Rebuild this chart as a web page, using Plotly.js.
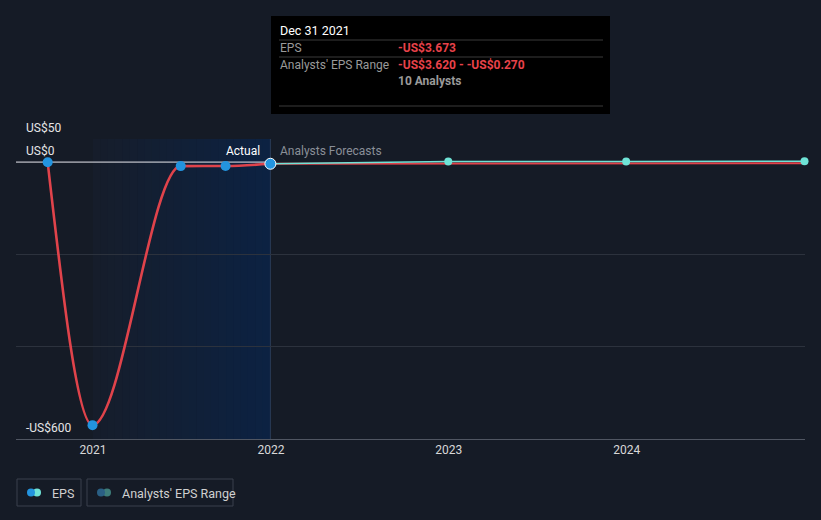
<!DOCTYPE html>
<html><head><meta charset="utf-8">
<script src="https://cdn.plot.ly/plotly-3.0.1.min.js"></script>
<style>html,body{margin:0;padding:0;background:#151b26;}#chart{width:821px;height:520px;}</style>
</head><body><div id="chart"></div>
<script>
// Data
const actualDates = ['2020-09-30','2020-12-31','2021-06-30','2021-09-30','2021-12-31'];
const actualEPS = [-0.5, -570, -8.7, -8.4, -3.673];
const forecastDates = ['2021-12-31','2022-12-31','2023-12-31','2024-12-31'];
const forecastEPS = [-3.673, 1.0, 1.5, 2.0];
const forecastLow = [-3.673, -2.8, -2.6, -2.4];
const xTickVals = ['2021-01-01','2022-01-01','2023-01-01','2024-01-01'];
const xTickText = ['2021','2022','2023','2024'];
const yLabelVals = [50, 0, -600];
const yLabelText = ['US$50','US$0','-US$600'];
const tipTitle = 'Dec 31 2021';
const tipEPS = '-US$3.673';
const tipRange = '-US$3.620 - -US$0.270';
const tipAnalysts = '10 Analysts';

const W=821,H=520,L=16,R=16,T=139,B=81;
const pw=W-L-R, ph=H-T-B;
const px=x=>(x-L)/pw, py=y=>(H-B-y)/ph;

// monotone cubic (d3 curveMonotoneX style) path built from the data
function monotonePath(dates, ys){
  const xs=dates.map(d=>new Date(d+'T00:00:00Z').getTime());
  const n=xs.length, t=new Array(n);
  const sgn=v=>v<0?-1:1;
  for(let i=1;i<n-1;i++){
    const h0=xs[i]-xs[i-1], h1=xs[i+1]-xs[i];
    const s0=(ys[i]-ys[i-1])/h0, s1=(ys[i+1]-ys[i])/h1;
    const p=(s0*h1+s1*h0)/(h0+h1);
    t[i]=(sgn(s0)+sgn(s1))*Math.min(Math.abs(s0),Math.abs(s1),0.5*Math.abs(p))||0;
  }
  if(n>2){
    let h=xs[1]-xs[0]; t[0]=(3*(ys[1]-ys[0])/h-t[1])/2;
    h=xs[n-1]-xs[n-2]; t[n-1]=(3*(ys[n-1]-ys[n-2])/h-t[n-2])/2;
  }
  const fx=ms=>new Date(ms).toISOString().slice(0,19).replace('T','_');
  let d='M'+fx(xs[0])+','+ys[0];
  for(let i=0;i<n-1;i++){
    const dx=(xs[i+1]-xs[i])/3;
    d+=' C'+fx(xs[i]+dx)+','+(ys[i]+dx*t[i])+' '+fx(xs[i+1]-dx)+','+(ys[i+1]-dx*t[i+1])+' '+fx(xs[i+1])+','+ys[i+1];
  }
  return d;
}

const shapes=[];
const annotations=[];
// gradient shaded actual region
const n=24;
const t0=new Date('2021-01-01').getTime(), t1=new Date('2021-12-31').getTime();
function mix(a,b,f){return Math.round(a+(b-a)*f);}
for(let i=0;i<n;i++){
  const f=(i+0.5)/n;
  const c=`rgb(${mix(22,12,f)},${mix(29,34,f)},${mix(42,66,f)})`;
  shapes.push({type:'rect',xref:'x',yref:'paper',x0:new Date(t0+(t1-t0)*i/n).toISOString().slice(0,10),x1:new Date(t0+(t1-t0)*(i+1)/n+86400000).toISOString().slice(0,10),y0:0,y1:1,fillcolor:c,line:{width:0},layer:'below'});
}
// vertical line at today
shapes.push({type:'line',xref:'x',yref:'paper',x0:'2021-12-31',x1:'2021-12-31',y0:0,y1:1,line:{color:'#2b3b55',width:1},layer:'between'});
// zero line (actual part)
shapes.push({type:'line',xref:'paper',yref:'y',x0:0,x1:px(271),y0:0,y1:0,line:{color:'#e8e8ee',width:1},layer:'between'});
// actual EPS curve
shapes.push({type:'path',xref:'x',yref:'y',path:monotonePath(actualDates,actualEPS),line:{color:'#e0434b',width:2.6},fillcolor:'rgba(0,0,0,0)',layer:'between'});
// y labels
yLabelVals.forEach((v,i)=>annotations.push({xref:'paper',yref:'y',x:px(24),y:v,text:yLabelText[i],showarrow:false,xanchor:'left',yanchor:'bottom',yshift:2,font:{family:'Roboto',size:12,color:'#e6e6e6'}}));
// Actual / Forecast labels
annotations.push({xref:'x',yref:'paper',x:'2021-12-31',y:py(151),text:'Actual',showarrow:false,xanchor:'right',xshift:-8,yanchor:'middle',font:{family:'Roboto',size:12,color:'#ffffff'}});
annotations.push({xref:'x',yref:'paper',x:'2021-12-31',y:py(151),text:'Analysts Forecasts',showarrow:false,xanchor:'left',xshift:8,yanchor:'middle',font:{family:'Roboto',size:12,color:'#8a8f98'}});
// Tooltip
shapes.push({type:'rect',xref:'paper',yref:'paper',x0:px(271),x1:px(610),y0:py(114),y1:py(16),fillcolor:'#000000',line:{width:0}});
[40,57,106].forEach(y=>shapes.push({type:'line',xref:'paper',yref:'paper',x0:px(279),x1:px(603),y0:py(y),y1:py(y),line:{color:'#3a3a3a',width:1}}));
function tip(x,y,text,color,bold,size){annotations.push({xref:'paper',yref:'paper',x:px(x),y:py(y),text:bold?'<b>'+text+'</b>':text,showarrow:false,xanchor:'left',yanchor:'middle',font:{family:'Roboto',size:size||12,color:color}});}
tip(278,31,tipTitle,'#ffffff',false,12.5);
tip(278,48,'EPS','#9a9a9a',false);
tip(396,48,tipEPS,'#e8424a',true);
tip(278,65,"Analysts' EPS Range",'#9a9a9a',false);
tip(396,65,tipRange,'#e8424a',true);
tip(396,81,tipAnalysts,'#9a9a9a',true);
// Legend
function box(x0,x1){shapes.push({type:'rect',xref:'paper',yref:'paper',x0:px(x0),x1:px(x1),y0:py(506),y1:py(479),line:{color:'#3a404c',width:1},fillcolor:'rgba(0,0,0,0)'});}
function dot(x,c){shapes.push({type:'circle',xref:'paper',yref:'paper',x0:px(x-4),x1:px(x+4),y0:py(496.5),y1:py(488.5),fillcolor:c,line:{width:0}});}
box(17,81); dot(37,'#6fe3d6'); dot(31,'#2394df');
annotations.push({xref:'paper',yref:'paper',x:px(50),y:py(493),text:'EPS',showarrow:false,xanchor:'left',yanchor:'middle',font:{family:'Roboto',size:12.5,color:'#d0d0d0'}});
box(87,233); dot(107,'#3d7d7a'); dot(101,'#2a5f84');
annotations.push({xref:'paper',yref:'paper',x:px(120),y:py(493),text:"Analysts' EPS Range",showarrow:false,xanchor:'left',yanchor:'middle',font:{family:'Roboto',size:12.5,color:'#d0d0d0'}});

const traces=[
 {x:forecastDates,y:forecastLow,mode:'lines',line:{color:'#e0434b',width:2},hoverinfo:'skip',cliponaxis:false},
 {x:forecastDates,y:forecastEPS,mode:'lines+markers',line:{color:'#6fe3d6',width:1.5},marker:{color:'#6fe3d6',size:8},hoverinfo:'skip',cliponaxis:false},
 {x:actualDates.slice(0,4),y:actualEPS.slice(0,4),mode:'markers',marker:{color:'#2394df',size:10},hoverinfo:'skip',cliponaxis:false},
 {x:[actualDates[4]],y:[actualEPS[4]],mode:'markers',marker:{color:'#2394df',size:11,line:{color:'#ffffff',width:1}},hoverinfo:'skip',cliponaxis:false}
];
const layout={
 width:W,height:H,margin:{l:L,r:R,t:T,b:B},
 paper_bgcolor:'#151b26',plot_bgcolor:'#151b26',showlegend:false,
 xaxis:{type:'date',range:['2020-07-27','2025-01-01'],tickvals:xTickVals,ticktext:xTickText,showgrid:false,zeroline:false,showline:true,linecolor:'#505662',linewidth:1,ticks:'',tickfont:{family:'Roboto',size:12,color:'#d8d8d8'},fixedrange:true},
 yaxis:{range:[-600,50],tickvals:[-600,-400,-200,50],showticklabels:false,gridcolor:'#2c323d',gridwidth:1,zeroline:false,showline:false,fixedrange:true},
 shapes:shapes,annotations:annotations,
 font:{family:'Roboto'}
};
Plotly.newPlot('chart',traces,layout,{displayModeBar:false,staticPlot:true});
</script></body></html>
